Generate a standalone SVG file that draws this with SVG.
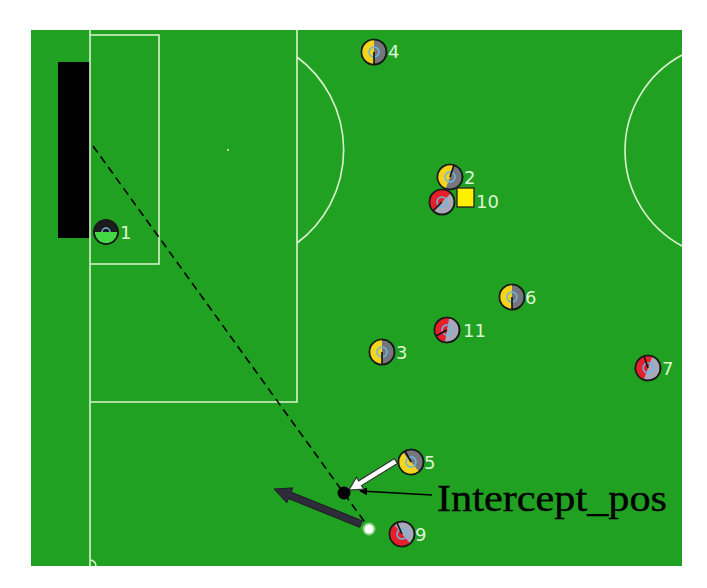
<svg xmlns="http://www.w3.org/2000/svg" xmlns:xlink="http://www.w3.org/1999/xlink" width="707" height="588" viewBox="0 0 707 588">
<style>
.ln{fill:none;stroke:#dcf3cf;stroke-width:1.6}
.num{font-family:"DejaVu Sans","Liberation Sans",sans-serif;font-size:18px;fill:#dcf5d2}
.ring{stroke:#1a1a1a;stroke-width:1.6}
.eye{fill:none;stroke:#6fb6e6;stroke-width:1.5}
.dir{stroke:#111;stroke-width:1.6}
</style>
<defs>
<g id="yel">
<circle r="12.5" fill="#76767e" class="ring"/>
<path d="M0,-12.5 A12.5,12.5 0 0 0 0,12.5 Z" fill="#f4d41c"/>
<circle r="12.5" fill="none" class="ring"/>
<circle r="5" class="eye"/>
</g>
<g id="red">
<circle r="12.5" fill="#a7a9b8" class="ring"/>
<path d="M0,-12.5 A12.5,12.5 0 0 0 0,12.5 Z" fill="#e5202a"/>
<circle r="12.5" fill="none" class="ring"/>
<circle r="5" class="eye"/>
</g>
<marker id="thin" viewBox="0 0 10 10" refX="9" refY="5" markerWidth="8" markerHeight="8" orient="auto" markerUnits="userSpaceOnUse">
<path d="M0,0 L10,5 L0,10 Z" fill="#000"/>
</marker>
</defs>
<rect width="707" height="588" fill="#fff"/>
<g id="field">
<rect x="31" y="30" width="651" height="536" fill="#21a121"/>
<rect x="58" y="62" width="32" height="176" fill="#000"/>
<line class="ln" x1="90" y1="30" x2="90" y2="566"/>
<path class="ln" d="M90,35 H159 V264 H90"/>
<path class="ln" d="M297,30 V402 H90"/>
<path class="ln" d="M297,57 A116,116 0 0 1 297,243"/>
<path class="ln" d="M682,55 A108.5,108.5 0 0 0 682,246"/>
<path class="ln" d="M90,560 A6,6 0 0 1 96,566"/>
<circle cx="228" cy="150" r="1" fill="#dcf3cf"/>
</g>
<g id="connectors">
<line x1="93" y1="146" x2="369" y2="528" stroke="#000" stroke-width="1.6" stroke-dasharray="8,5"/>
<line x1="432" y1="495" x2="360" y2="491" stroke="#000" stroke-width="1.3" marker-end="url(#thin)"/>
<path d="M397.5,463.4 L361.5,485.6 L363.8,489.1 L349,490 L356.4,477.2 L358.6,480.8 L394.5,458.6 Z" fill="#fff" stroke="#333" stroke-width="1.2"/>
<path d="M362.3,520.8 L291.1,492.1 L292.8,487.9 L274,489 L286.8,502.7 L288.5,498.6 L359.7,527.3 Z" fill="#2e2c3a" stroke="#1c1c24" stroke-width="1"/>
</g>
<g id="ball">
<circle cx="369" cy="529" r="6.5" fill="#c8f0c0" opacity="0.6"/>
<circle cx="369" cy="529" r="4.5" fill="#fff"/>
</g>
<g id="intercept">
<circle cx="344" cy="493" r="6.5" fill="#000"/>
<text x="437" y="511" font-family="'Liberation Serif','Noto Sans CJK SC',serif" font-size="38" textLength="230" lengthAdjust="spacingAndGlyphs" fill="#000" stroke="#000" stroke-width="0.4">Intercept_pos</text>
</g>
<g id="p1" transform="translate(106,232)">
<circle r="12" fill="#45d845" class="ring"/>
<path d="M-12,0 A12,12 0 0 1 12,0 Z" fill="#1c1c1c"/>
<circle r="12" fill="none" class="ring"/>
<path d="M-4,0 A4,4 0 0 1 4,0" class="eye"/>
<text class="num" x="14" y="7">1</text>
</g>
<g id="p4" transform="translate(374,52)">
<use xlink:href="#yel"/><line class="dir" x1="0" y1="0" x2="0" y2="12.5"/>
<text class="num" x="14" y="6">4</text>
</g>
<g id="p2" transform="translate(450,177)">
<use xlink:href="#yel" transform="rotate(20)"/><line class="dir" x1="0" y1="0" x2="4" y2="-12"/>
<text class="num" x="14" y="7">2</text>
</g>
<g id="p10" transform="translate(442,202)">
<use xlink:href="#red" transform="rotate(45)"/><line class="dir" x1="0" y1="0" x2="-9" y2="9"/>
<rect x="15" y="-14" width="17" height="19" fill="#ffef00" stroke="#222" stroke-width="1.3"/>
<text class="num" x="34" y="6">10</text>
</g>
<g id="p6" transform="translate(512,297)">
<use xlink:href="#yel"/><line class="dir" x1="0" y1="0" x2="0" y2="12.5"/>
<text class="num" x="13" y="7">6</text>
</g>
<g id="p11" transform="translate(447,330)">
<use xlink:href="#red" transform="rotate(10)"/><line class="dir" x1="0" y1="0" x2="-11" y2="6"/>
<text class="num" x="16" y="7">11</text>
</g>
<g id="p3" transform="translate(382,352)">
<use xlink:href="#yel"/><line class="dir" x1="0" y1="0" x2="0" y2="12.5"/>
<text class="num" x="14" y="7">3</text>
</g>
<g id="p7" transform="translate(648,368)">
<use xlink:href="#red" transform="rotate(20)"/><line class="dir" x1="0" y1="0" x2="-4" y2="-12"/>
<text class="num" x="14" y="7">7</text>
</g>
<g id="p5" transform="translate(411,462)">
<use xlink:href="#yel" transform="rotate(-40)"/><line class="dir" x1="0" y1="0" x2="-6" y2="-11"/>
<text class="num" x="13" y="7">5</text>
</g>
<g id="p9" transform="translate(402,534)">
<use xlink:href="#red" transform="rotate(-40)"/><line class="dir" x1="0" y1="0" x2="-5" y2="-11"/>
<text class="num" x="13" y="7">9</text>
</g>
</svg>
